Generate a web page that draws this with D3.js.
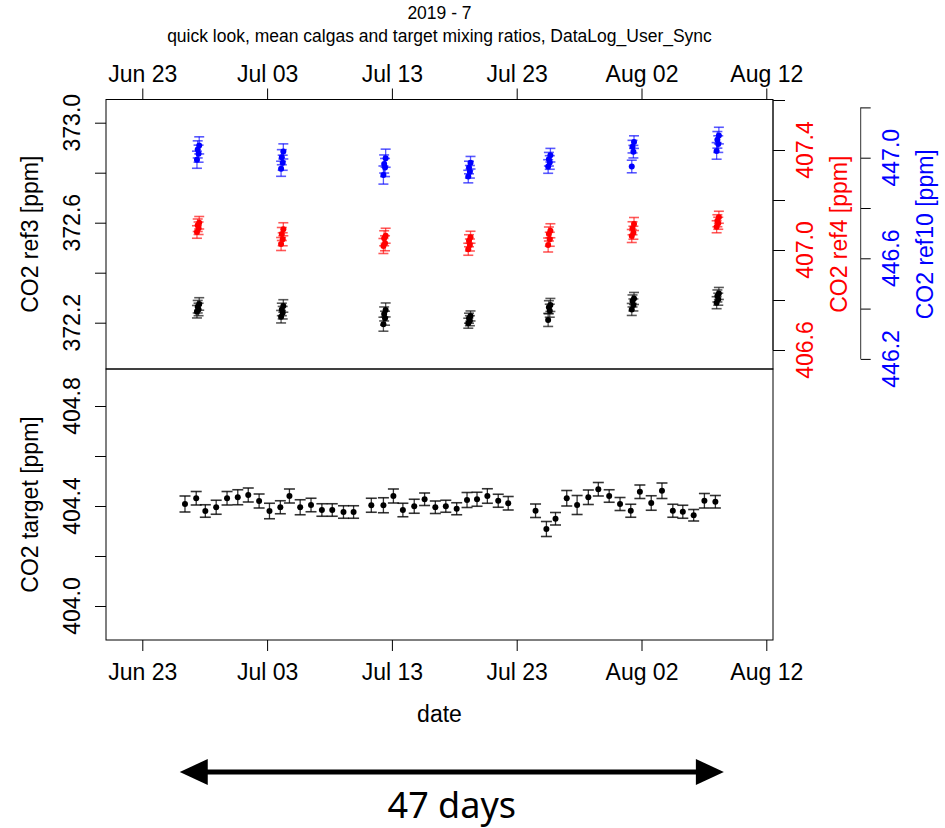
<!DOCTYPE html>
<html lang="en">
<head>
<meta charset="UTF-8">
<title>calgas quick look 2019-7</title>
<script src="https://cdn.jsdelivr.net/npm/d3@7"></script>
<style>
  body { margin: 0; background: #fff; }
  text { font-family: "Liberation Sans", Arial, sans-serif; }
</style>
</head>
<body>
<script>
// all times are days after Jun 23 2019 (UTC)
var clusterDays = [4.46, 11.2, 19.4, 26.2, 32.6, 39.3, 46.1];
var clusterSpread = [0.1, -0.02, 0.05, -0.08];

var ref3Values = [
    [372.275, 372.264, 372.253, 372.244],
    [372.267, 372.253, 372.240, 372.224],
    [372.251, 372.235, 372.218, 372.194],
    [372.227, 372.218, 372.208, 372.198],
    [372.271, 372.262, 372.248, 372.211],
    [372.297, 372.287, 372.271, 372.253],
    [372.317, 372.307, 372.294, 372.280]
];
var ref3Err = [0.025, 0.025, 0.028, 0.020, 0.026, 0.024, 0.024];

var ref4Values = [
    [407.109, 407.099, 407.087, 407.072],
    [407.083, 407.064, 407.043, 407.024],
    [407.057, 407.047, 407.027, 407.016],
    [407.051, 407.037, 407.020, 407.003],
    [407.077, 407.064, 407.043, 407.020],
    [407.104, 407.087, 407.069, 407.056],
    [407.131, 407.117, 407.107, 407.093]
];
var ref4Err = [0.025, 0.026, 0.030, 0.024, 0.028, 0.026, 0.024];

var ref10Values = [
    [447.049, 447.033, 447.016, 446.992],
    [447.025, 447.002, 446.980, 446.956],
    [446.998, 446.975, 446.961, 446.931],
    [446.980, 446.961, 446.944, 446.925],
    [447.010, 446.994, 446.981, 446.965],
    [447.062, 447.044, 447.024, 446.965],
    [447.088, 447.071, 447.054, 447.027]
];
var ref10Err = [0.034, 0.030, 0.036, 0.025, 0.027, 0.025, 0.033];

var targetDays = [3.42, 4.32, 5.05, 5.92, 6.79, 7.65, 8.49, 9.36, 10.19, 11.06, 11.79, 12.65, 13.52, 14.39, 15.22, 16.12, 16.93,
    18.35, 19.32, 20.12, 20.88, 21.79, 22.62, 23.48, 24.32, 25.19, 26.02, 26.82, 27.65, 28.52, 29.32,
    31.51, 32.38, 33.11, 34.01, 34.84, 35.74, 36.54, 37.41, 38.28, 39.14, 39.87, 40.78, 41.64, 42.51, 43.31, 44.18, 45.04, 45.92];
var targetValues = [404.408, 404.431, 404.380, 404.395, 404.431, 404.435, 404.444, 404.420, 404.380, 404.395, 404.440, 404.395, 404.404, 404.384, 404.384, 404.376, 404.376,
    404.403, 404.403, 404.440, 404.384, 404.399, 404.427, 404.395, 404.399, 404.389, 404.424, 404.427, 404.440, 404.421, 404.411,
    404.381, 404.308, 404.349, 404.431, 404.404, 404.435, 404.467, 404.440, 404.408, 404.381, 404.457, 404.412, 404.461, 404.381, 404.377, 404.363, 404.421, 404.417];
var targetErr = [0.032, 0.027, 0.025, 0.028, 0.027, 0.030, 0.028, 0.028, 0.031, 0.026, 0.028, 0.030, 0.027, 0.025, 0.025, 0.025, 0.025,
    0.028, 0.030, 0.028, 0.027, 0.028, 0.025, 0.025, 0.024, 0.024, 0.030, 0.028, 0.029, 0.026, 0.027,
    0.027, 0.030, 0.025, 0.031, 0.038, 0.029, 0.027, 0.025, 0.026, 0.026, 0.027, 0.029, 0.031, 0.026, 0.026, 0.023, 0.029, 0.025];

var dateTicks = ["2019-06-23", "2019-07-03", "2019-07-13", "2019-07-23", "2019-08-02", "2019-08-12"];
var ref3Ticks = [372.2, 372.4, 372.6, 372.8, 373.0];
var ref3Labels = [372.2, 372.6, 373.0];
var ref4Ticks = [406.6, 406.8, 407.0, 407.2, 407.4, 407.6];
var ref4Labels = [406.6, 407.0, 407.4];
var ref10Ticks = [446.2, 446.4, 446.6, 446.8, 447.0, 447.2];
var ref10Labels = [446.2, 446.6, 447.0];
var targetTicks = [404.0, 404.2, 404.4, 404.6, 404.8];
var targetLabels = [404.0, 404.4, 404.8];
var arrowDays = [3.0, 46.6];

var width = 945, height = 828;
var box = {left: 106, right: 773, top: 99.5, mid: 369, bottom: 640};

var svg = d3.select("body").append("svg")
    .attr("width", width)
    .attr("height", height);

var day0 = Date.UTC(2019, 5, 23);
function dayDate(d) { return new Date(day0 + d * 864e5); }

var x = d3.scaleUtc()
    .domain([new Date("2019-06-23T00:00Z"), new Date("2019-08-12T00:00Z")])
    .range([142.3, 766.3]);

var yRef3 = d3.scaleLinear().domain([372.6, 373.0]).range([222.7, 122.7]);
var yRef4 = d3.scaleLinear().domain([407.0, 407.4]).range([250, 150]);
var yRef10 = d3.scaleLinear().domain([446.6, 447.0]).range([258.3, 157.7]);
var yTarget = d3.scaleLinear().domain([404.4, 404.8]).range([506, 406]);

var fmt = d3.format(".1f");
var tickDates = dateTicks.map(function(s) { return new Date(s + "T00:00Z"); });

// titles
svg.append("text").attr("x", 439.5).attr("y", 19).attr("text-anchor", "middle")
    .style("font-size", "17.5px").text("2019 - 7");
svg.append("text").attr("x", 439.5).attr("y", 41.5).attr("text-anchor", "middle")
    .style("font-size", "17.5px").text("quick look, mean calgas and target mixing ratios, DataLog_User_Sync");

// top date axis
svg.append("g")
    .attr("transform", "translate(0," + box.top + ")")
    .call(d3.axisTop(x).tickValues(tickDates).tickFormat(d3.utcFormat("%b %d")).tickSize(11).tickPadding(6.5))
    .call(function(g) { g.select(".domain").remove(); })
    .call(function(g) { g.selectAll("text").style("font-size", "23px").attr("font-family", null); });

// bottom date axis
svg.append("g")
    .attr("transform", "translate(0," + box.bottom + ")")
    .call(d3.axisBottom(x).tickValues(tickDates).tickFormat(d3.utcFormat("%b %d")).tickSize(11).tickPadding(12.5))
    .call(function(g) { g.select(".domain").remove(); })
    .call(function(g) { g.selectAll("text").style("font-size", "23px").attr("font-family", null); });

svg.append("text").attr("x", 439.5).attr("y", 722).attr("text-anchor", "middle")
    .style("font-size", "23px").text("date");

// left axes
function leftAxis(scale, ticks, labels, title, midY) {
    svg.append("g")
        .attr("transform", "translate(" + box.left + ",0)")
        .call(d3.axisLeft(scale).tickValues(ticks).tickFormat("").tickSize(11))
        .call(function(g) { g.select(".domain").remove(); });
    svg.selectAll(null).data(labels).join("text")
        .attr("transform", function(d) { return "translate(80," + scale(d) + ") rotate(-90)"; })
        .attr("text-anchor", "middle")
        .style("font-size", "23px")
        .text(fmt);
    svg.append("text")
        .attr("transform", "translate(37.5," + midY + ") rotate(-90)")
        .attr("text-anchor", "middle")
        .style("font-size", "23px")
        .text(title);
}
leftAxis(yRef3, ref3Ticks, ref3Labels, "CO2 ref3 [ppm]", (box.top + box.mid) / 2);
leftAxis(yTarget, targetTicks, targetLabels, "CO2 target [ppm]", (box.mid + box.bottom) / 2);

// right axes
function rightAxis(scale, ticks, labels, title, axisX, tick, labelX, titleX, color) {
    var g = svg.append("g").attr("transform", "translate(" + axisX + ",0)");
    g.call(d3.axisRight(scale).tickValues(ticks).tickFormat("").tickSize(tick))
        .call(function(s) { s.select(".domain").remove(); });
    g.append("line")
        .attr("y1", scale(d3.min(ticks))).attr("y2", scale(d3.max(ticks)))
        .attr("stroke", "#333");
    svg.selectAll(null).data(labels).join("text")
        .attr("transform", function(d) { return "translate(" + labelX + "," + scale(d) + ") rotate(-90)"; })
        .attr("text-anchor", "middle")
        .attr("fill", color)
        .style("font-size", "23px")
        .text(fmt);
    svg.append("text")
        .attr("transform", "translate(" + titleX + "," + (box.top + box.mid) / 2 + ") rotate(-90)")
        .attr("text-anchor", "middle")
        .attr("fill", color)
        .style("font-size", "23px")
        .text(title);
}
rightAxis(yRef4, ref4Ticks, ref4Labels, "CO2 ref4 [ppm]", box.right, 12, 813, 847, "#ff0000");
rightAxis(yRef10, ref10Ticks, ref10Labels, "CO2 ref10 [ppm]", 860.7, 10, 898.5, 933, "#0000ff");

// panel boxes
svg.append("rect").attr("x", box.left).attr("y", box.top)
    .attr("width", box.right - box.left).attr("height", box.mid - box.top)
    .attr("fill", "none").attr("stroke", "#000");
svg.append("rect").attr("x", box.left).attr("y", box.mid)
    .attr("width", box.right - box.left).attr("height", box.bottom - box.mid)
    .attr("fill", "none").attr("stroke", "#000");

// error bars + points
function drawPoints(pts, y, barColor, dotColor, cap) {
    var g = svg.append("g");
    g.selectAll(null).data(pts).join("line")
        .attr("x1", function(d) { return x(d.t); }).attr("x2", function(d) { return x(d.t); })
        .attr("y1", function(d) { return y(d.v - d.e); }).attr("y2", function(d) { return y(d.v + d.e); })
        .attr("stroke", barColor).attr("stroke-width", 1.3);
    [-1, 1].forEach(function(s) {
        g.selectAll(null).data(pts).join("line")
            .attr("x1", function(d) { return x(d.t) - cap; }).attr("x2", function(d) { return x(d.t) + cap; })
            .attr("y1", function(d) { return y(d.v + s * d.e); }).attr("y2", function(d) { return y(d.v + s * d.e); })
            .attr("stroke", barColor).attr("stroke-width", 1.6);
    });
    g.selectAll(null).data(pts).join("circle")
        .attr("cx", function(d) { return x(d.t); })
        .attr("cy", function(d) { return y(d.v); })
        .attr("r", 3)
        .attr("fill", dotColor);
}

function clusterPoints(values, errs) {
    var out = [];
    values.forEach(function(row, i) {
        row.forEach(function(v, j) {
            out.push({t: dayDate(clusterDays[i] + clusterSpread[j]), v: v, e: errs[i]});
        });
    });
    return out;
}

drawPoints(clusterPoints(ref10Values, ref10Err), yRef10, "rgba(0,0,255,0.65)", "#0000ff", 5);
drawPoints(clusterPoints(ref4Values, ref4Err), yRef4, "rgba(255,0,0,0.65)", "#ff0000", 5);
drawPoints(clusterPoints(ref3Values, ref3Err), yRef3, "rgba(0,0,0,0.65)", "#000", 5);

var targetPts = targetDays.map(function(d, i) {
    return {t: dayDate(d), v: targetValues[i], e: targetErr[i]};
});
drawPoints(targetPts, yTarget, "rgba(0,0,0,0.8)", "#000", 5.5);

// span arrow
var ax0 = x(dayDate(arrowDays[0])), ax1 = x(dayDate(arrowDays[1])), ay = 772;
var headL = 28, headH = 13;
svg.append("line")
    .attr("x1", ax0 + headL - 2).attr("x2", ax1 - headL + 2)
    .attr("y1", ay).attr("y2", ay)
    .attr("stroke", "#000").attr("stroke-width", 5);
svg.append("path")
    .attr("d", "M" + ax0 + "," + ay + "L" + (ax0 + headL) + "," + (ay - headH) + "L" + (ax0 + headL) + "," + (ay + headH) + "Z")
    .attr("fill", "#000");
svg.append("path")
    .attr("d", "M" + ax1 + "," + ay + "L" + (ax1 - headL) + "," + (ay - headH) + "L" + (ax1 - headL) + "," + (ay + headH) + "Z")
    .attr("fill", "#000");
svg.append("text")
    .attr("x", (ax0 + ax1) / 2).attr("y", 818)
    .attr("text-anchor", "middle")
    .style("font-family", "'Noto Sans', 'Open Sans', sans-serif")
    .style("font-size", "36px")
    .text("47 days");
</script>
</body>
</html>
